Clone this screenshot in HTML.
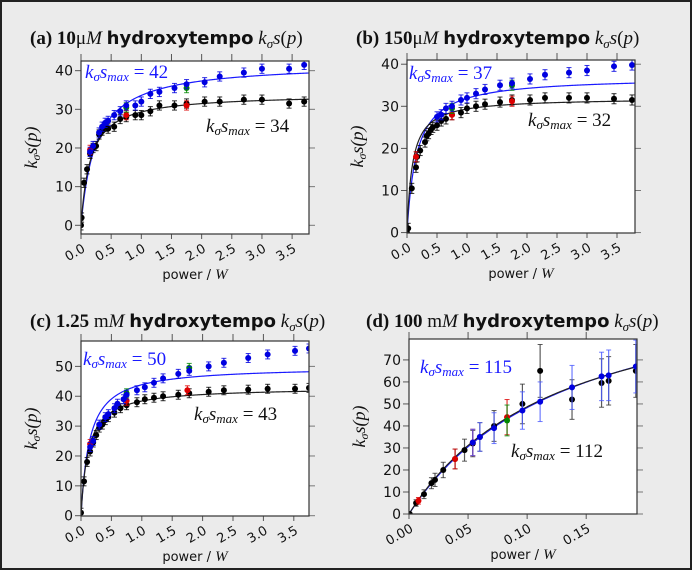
<!DOCTYPE html>
<html><head><meta charset="utf-8"><style>
html,body{margin:0;padding:0;background:#ebebeb;}
#wrap{position:relative;width:692px;height:570px;box-sizing:border-box;border:2px solid #222;background:#ebebeb;overflow:hidden;}
svg{position:absolute;left:0;top:0;}
.serif{font-family:"Liberation Serif","DejaVu Serif",serif;}
.sans{font-family:"DejaVu Sans","Liberation Sans",sans-serif;}
</style></head><body>
<div id="wrap">
<svg id="fig" width="692" height="570"></svg>
</div>
<script>
// Panel (a)
const aBlackX=[0,0.01,0.05,0.1,0.15,0.2,0.25,0.3,0.35,0.4,0.45,0.55,0.65,0.75,0.9,1.0,1.15,1.3,1.55,1.75,2.05,2.3,2.7,3.0,3.45,3.7];
const aBlackY=[0,2,11,14.5,18.5,20,20.5,23.5,24.5,25.5,25,25.5,27.5,28,28.5,28.5,29.5,31,31,31.5,32,32,32.5,32.5,31.5,32];
const aBlueX=[0.15,0.2,0.3,0.35,0.4,0.45,0.55,0.65,0.75,0.9,1.0,1.15,1.3,1.55,1.75,2.05,2.3,2.7,3.0,3.45,3.7];
const aBlueY=[19,20.5,24,25.5,26.5,27,28.5,29.5,31,31,32,34,34.5,35.5,36.5,37,38.5,39.5,40.5,40.5,41.5];
const aRedX=[0.15,0.75,1.75], aRedY=[19.5,28.5,31];
const aGreenX=[0.75,1.75], aGreenY=[30.5,35.5];
const aFit=[34,0.16,42,0.25]; // black smax, half; blue smax, half
// Panel (b)
const bBlackX=[0,0.02,0.08,0.15,0.17,0.22,0.3,0.33,0.36,0.4,0.43,0.5,0.57,0.65,0.75,0.9,1.0,1.15,1.3,1.55,1.75,2.05,2.3,2.7,3.0,3.45,3.75];
const bBlackY=[0,1,10.5,15.5,18,19.5,21.5,23,23.5,24.5,25,25.5,26.5,27,28,28.5,29.5,30,30.5,31,31.5,31.5,32,32,32,31.8,31.5];
const bBlueX=[0.5,0.57,0.65,0.75,0.9,1.0,1.15,1.3,1.55,1.75,2.05,2.3,2.7,3.0,3.45,3.75];
const bBlueY=[27.5,28,29.5,30,31.5,32,33,34,35,35.5,36.5,37.5,38,38.5,39.5,39.8];
const bRedX=[0.15,0.75,1.75], bRedY=[18,28,31.2];
const bGreenX=[0.75,1.75], bGreenY=[29.5,35];
const bFit=[32,0.09,37,0.16];
// Panel (c)
const cBlackX=[0,0.05,0.1,0.15,0.2,0.25,0.3,0.35,0.4,0.45,0.55,0.65,0.75,0.92,1.05,1.2,1.35,1.6,1.78,2.1,2.35,2.75,3.07,3.52,3.75];
const cBlackY=[1,11.5,18,21.5,24.5,27,29.5,30.5,32,33,34.5,36,37,38,39,39.5,40,40.5,41,41.5,42,42.2,42.5,42.5,42.8];
const cBlueX=[0.15,0.2,0.3,0.4,0.45,0.55,0.6,0.7,0.75,0.92,1.05,1.2,1.35,1.6,1.78,2.1,2.35,2.75,3.07,3.52,3.75];
const cBlueY=[23,25,30.5,33,34,36,37.5,39,40.5,42,43,44.5,46,47.5,48.5,50,51.2,52.8,54,55.2,56];
const cRedX=[0.15,0.75,1.75], cRedY=[24,38.5,42];
const cGreenX=[0.75,1.78], cGreenY=[41,49.5];
const cFit=[43,0.12,50,0.14];
// Panel (d)
const dBlackX=[0.0006,0.006,0.0127,0.019,0.022,0.029,0.039,0.047,0.054,0.060,0.072,0.096,0.111,0.138,0.163,0.169,0.192];
const dBlackY=[0,5,9,14,15.5,20,25,29,32,35,40,50,65,52,59.5,60.5,65];
const dBlackE=[0.5,1.5,2,2.5,3,3.5,4.5,5,6,6.5,7,9,12,9,11,11,12];
const dBlueX=[0.054,0.060,0.072,0.096,0.111,0.138,0.163,0.169,0.192];
const dBlueY=[32.5,35,39,47,51,57.5,62.5,63,67];
const dBlueE=[6,6.5,7,8.5,9,10,11,11.5,12];
const dRedX=[0.008,0.039,0.054,0.083], dRedY=[6,25,32.5,44];
const dRedE=[1.5,4.5,6,8];
const dGreenX=[0.083], dGreenY=[42.5];
const dFit=[112,0.13,115,0.138];

const NS='http://www.w3.org/2000/svg';
const svg=document.getElementById('fig');
function mk(tag,attrs,parent){const e=document.createElementNS(NS,tag);for(const k in attrs)e.setAttribute(k,attrs[k]);(parent||svg).appendChild(e);return e;}

function panel(p){
  const g=mk('g',{});
  
  
  const sx=v=>p.x0+(v-p.xmin)/(p.xmax-p.xmin)*(p.x1-p.x0);
  const sy=v=>p.y1-(v-p.ymin)/(p.ymax-p.ymin)*(p.y1-p.y0);
  const bg=mk('rect',{x:p.x0,y:p.y0,width:p.x1-p.x0,height:p.y1-p.y0,fill:'#fff',stroke:'none'},g);
  
  
  const t=mk('text',{x:p.tx,y:p.ty,'class':'serif','font-size':'19','font-weight':'bold',fill:'#111'},g);
  
  
  t.innerHTML=p.title;
  p.yt.forEach(v=>{
    const y=sy(v);
    mk('line',{x1:p.x0-6,x2:p.x0,y1:y,y2:y,stroke:'#555','stroke-width':1},g);
    mk('line',{x1:p.x1,x2:p.x1+6,y1:y,y2:y,stroke:'#777','stroke-width':1},g);
    const l=mk('text',{x:p.x0-8,y:y+5,'text-anchor':'end','class':'sans','font-size':'14',fill:'#111'},g);
    
    
    l.textContent=v;
  });
  p.xt.forEach((v,i)=>{
    const x=sx(v);
    mk('line',{x1:x,x2:x,y1:p.y0-7,y2:p.y0,stroke:'#555','stroke-width':1},g);
    mk('line',{x1:x,x2:x,y1:p.y1,y2:p.y1+5,stroke:'#555','stroke-width':1},g);
    const l=mk('text',{x:x+5,y:p.y1+17,'text-anchor':'end','class':'sans','font-size':'13',fill:'#111',transform:`rotate(-30 ${x+5} ${p.y1+17})`},g);
    
    
    l.textContent=p.xtl[i];
  });
  const xl=mk('text',{x:(p.x0+p.x1)/2,y:p.y1+45,'text-anchor':'middle','class':'sans','font-size':'13',fill:'#111'},g);
  
  
  xl.innerHTML='power / <tspan class="serif" font-style="italic" font-size="15">W</tspan>';
  const ycy=(p.y0+p.y1)/2, ycx=p.x0-44;
  const yl=mk('text',{x:ycx,y:ycy,'text-anchor':'middle','class':'serif','font-style':'italic','font-size':'18',fill:'#111',transform:`rotate(-90 ${ycx} ${ycy})`},g);
  
  
  yl.innerHTML='k<tspan font-size="12" dy="3">σ</tspan><tspan dy="-3">s(p)</tspan>';
  const cid='clip'+p.id;
  const cp=mk('clipPath',{id:cid},g);
  mk('rect',{x:p.x0,y:p.y0,width:p.x1-p.x0,height:p.y1-p.y0},cp);
  const inner=mk('g',{'clip-path':`url(#${cid})`},g);
  [[p.fit[2],p.fit[3],'#1a1aff','fit-curve-blue'],[p.fit[0],p.fit[1],'#222','fit-curve-black']].forEach(f=>{
    let d='';
    for(let i=0;i<=300;i++){const v=p.xmin+(p.xmax-p.xmin)*i/300;const yv=f[0]*v/(v+f[1]);d+=(i?'L':'M')+sx(v).toFixed(2)+','+sy(yv).toFixed(2);}
    const pa=mk('path',{d:d,fill:'none',stroke:f[2],'stroke-width':1.2},inner);
    
    
  });
  p.series.forEach(s=>{
    s.x.forEach((xv,i)=>{
      const e=s.e?s.e[i]:p.err;
      const X=sx(xv),Y=sy(s.y[i]);
      mk('line',{x1:X,x2:X,y1:sy(s.y[i]-e),y2:sy(s.y[i]+e),stroke:s.ec,'stroke-width':1.2,opacity:0.8},inner);
      mk('line',{x1:X-2.5,x2:X+2.5,y1:sy(s.y[i]-e),y2:sy(s.y[i]-e),stroke:s.ec,'stroke-width':1,opacity:0.8},inner);
      mk('line',{x1:X-2.5,x2:X+2.5,y1:sy(s.y[i]+e),y2:sy(s.y[i]+e),stroke:s.ec,'stroke-width':1,opacity:0.8},inner);
      const c=mk('circle',{cx:X,cy:Y,r:3,fill:s.c},inner);
      
      
    });
  });
  const fr=mk('rect',{x:p.x0,y:p.y0,width:p.x1-p.x0,height:p.y1-p.y0,fill:'none',stroke:'#333','stroke-width':1.2},g);
  
  
  [[p.bl,'#1a1aff',p.fit[2],'annotation-blue'],[p.kl,'#111',p.fit[0],'annotation-black']].forEach(a=>{
    const t2=mk('text',{x:a[0][0],y:a[0][1],'class':'serif','font-size':'19',fill:a[1]},g);
    
    
    t2.innerHTML=`<tspan font-style="italic">k</tspan><tspan font-style="italic" font-size="13" dy="3">σ</tspan><tspan font-style="italic" dy="-3">s</tspan><tspan font-style="italic" font-size="13" dy="3">max</tspan><tspan dy="-3"> = ${a[2]}</tspan>`;
  });
}
const S=(x,y,c,n,e,ec)=>({x,y,c,n,e,ec:ec||c});
const TT=(l,conc)=>`(${l}) ${conc} <tspan class="sans" font-size="18">hydroxytempo</tspan> <tspan font-weight="normal" font-style="italic">k</tspan><tspan font-weight="normal" font-style="italic" font-size="13" dy="4">σ</tspan><tspan font-weight="normal" font-style="italic" dy="-4">s</tspan><tspan font-weight="normal">(<tspan font-style="italic">p</tspan>)</tspan>`;
const xt4=[0,0.5,1,1.5,2,2.5,3,3.5], xt4l=['0.0','0.5','1.0','1.5','2.0','2.5','3.0','3.5'];
panel({id:'a',x0:79,x1:307,y0:59,y1:232,xmin:0,xmax:3.78,ymin:-2.25,ymax:42.5,err:1.2,
 tx:28,ty:42,title:TT('a','10<tspan font-weight="normal">μ<tspan font-style="italic">M</tspan></tspan>'),
 yt:[0,10,20,30,40],xt:xt4,xtl:xt4l,fit:aFit,bl:[83,76],kl:[204,130],
 series:[S(aBlackX,aBlackY,'#000','black'),S(aRedX,aRedY,'#d00','red'),S(aGreenX,aGreenY,'#080','green'),S(aBlueX,aBlueY,'#0000e0','blue')]});
panel({id:'b',x0:405,x1:633,y0:58,y1:231,xmin:0,xmax:3.8,ymin:-0.1,ymax:41,err:1.2,
 tx:354,ty:42,title:TT('b','150<tspan font-weight="normal">μ<tspan font-style="italic">M</tspan></tspan>'),
 yt:[0,10,20,30,40],xt:xt4,xtl:xt4l,fit:bFit,bl:[407,77],kl:[526,124],
 series:[S(bBlackX,bBlackY,'#000','black'),S(bRedX,bRedY,'#d00','red'),S(bGreenX,bGreenY,'#080','green'),S(bBlueX,bBlueY,'#0000e0','blue')]});
panel({id:'c',x0:79,x1:307,y0:339,y1:514,xmin:0,xmax:3.75,ymin:-0.1,ymax:58.5,err:1.5,
 tx:28,ty:325,title:TT('c','1.25 <tspan font-weight="normal">m<tspan font-style="italic">M</tspan></tspan>'),
 yt:[0,10,20,30,40,50],xt:xt4,xtl:xt4l,fit:cFit,bl:[81,363],kl:[192,418],
 series:[S(cBlackX,cBlackY,'#000','black'),S(cRedX,cRedY,'#d00','red'),S(cGreenX,cGreenY,'#080','green'),S(cBlueX,cBlueY,'#0000e0','blue')]});
panel({id:'d',x0:407,x1:635,y0:337,y1:512,xmin:0,xmax:0.193,ymin:0,ymax:79.5,err:2,
 tx:364,ty:325,title:TT('d','100 <tspan font-weight="normal">m<tspan font-style="italic">M</tspan></tspan>'),
 yt:[0,10,20,30,40,50,60,70],xt:[0,0.05,0.1,0.15],xtl:['0.00','0.05','0.10','0.15'],fit:dFit,bl:[418,371],kl:[509,455],
 series:[S(dBlackX,dBlackY,'#000','black',dBlackE,'#333'),S(dRedX,dRedY,'#d00','red',dRedE),S(dGreenX,dGreenY,'#080','green',[7]),S(dBlueX,dBlueY,'#0000e0','blue',dBlueE,'#4a5aff')]});
</script>
</body></html>
